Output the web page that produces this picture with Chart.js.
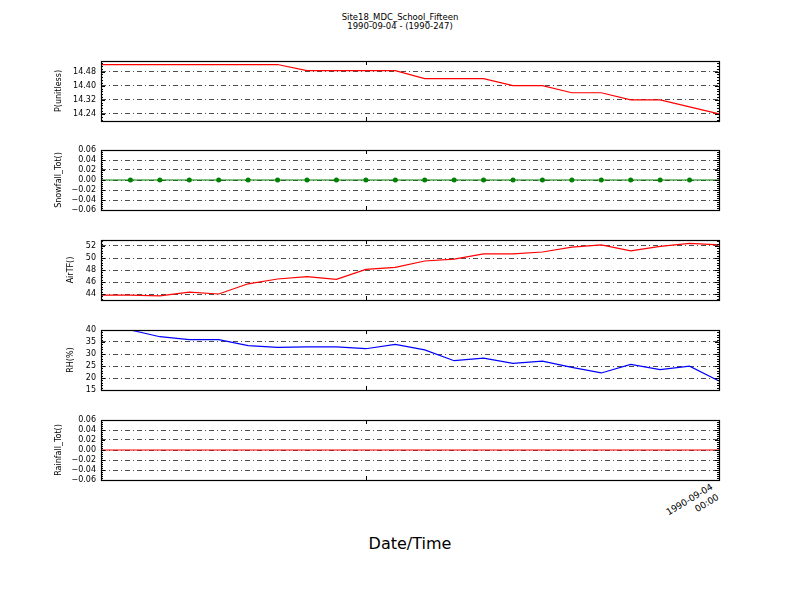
<!DOCTYPE html>
<html><head><meta charset="utf-8">
<script src="https://cdn.jsdelivr.net/npm/chart.js@4.4.0/dist/chart.umd.min.js"></script>
<style>
body{margin:0;background:#fff;width:800px;height:600px;position:relative;overflow:hidden;font-family:"DejaVu Sans",sans-serif;color:#000;}
canvas{position:absolute;left:0;}
#title{position:absolute;left:300px;top:13px;width:200px;text-align:center;font-size:8.5px;line-height:9px;}
#xtick{position:absolute;left:665px;top:494px;width:54px;text-align:right;font-size:9px;line-height:11.5px;transform:rotate(-31deg);transform-origin:center;white-space:nowrap;}
#xlabel{position:absolute;left:310px;top:534px;width:200px;text-align:center;font-size:16px;line-height:20px;}
</style></head><body>
<div id="title">Site18_MDC_School_Fifteen<br>1990-09-04 - (1990-247)</div>
<div id="xtick">1990-09-04<br>00:00</div>
<div id="xlabel">Date/Time</div>
<script>
const timeLabels = ['1990-09-03 03:00','1990-09-03 04:00','1990-09-03 05:00','1990-09-03 06:00','1990-09-03 07:00','1990-09-03 08:00','1990-09-03 09:00','1990-09-03 10:00','1990-09-03 11:00','1990-09-03 12:00','1990-09-03 13:00','1990-09-03 14:00','1990-09-03 15:00','1990-09-03 16:00','1990-09-03 17:00','1990-09-03 18:00','1990-09-03 19:00','1990-09-03 20:00','1990-09-03 21:00','1990-09-03 22:00','1990-09-03 23:00','1990-09-04 00:00'];
const pressure = [14.52,14.52,14.52,14.52,14.52,14.52,14.52,14.485,14.485,14.485,14.485,14.44,14.44,14.44,14.40,14.40,14.36,14.36,14.32,14.32,14.28,14.24];
const snowfall = [0,0,0,0,0,0,0,0,0,0,0,0,0,0,0,0,0,0,0,0,0,0];
const airTF = [43.8,43.8,43.7,44.3,44.0,45.7,46.5,46.9,46.45,48.1,48.45,49.5,49.8,50.7,50.7,51.0,51.8,52.2,51.2,51.95,52.45,52.2];
const rh = [40,40,37.2,36.0,36.0,33.5,32.8,33.0,33.0,32.2,34.0,31.7,27.2,28.3,26.1,27.0,24.4,22.1,25.7,23.5,24.9,18.75];
const rainfall = [0,0,0,0,0,0,0,0,0,0,0,0,0,0,0,0,0,0,0,0,0,0];
const pTicks = [14.24,14.32,14.40,14.48];
const snowTicks = [-0.06,-0.04,-0.02,0,0.02,0.04,0.06];
const airTicks = [44,46,48,50,52];
const rhTicks = [15,20,25,30,35,40];
const rainTicks = [-0.06,-0.04,-0.02,0,0.02,0.04,0.06];
const xTickIndex = 9;

const panels = [
  {top:61, data:pressure, color:'#ff0000', title:'P(unitless)', min:14.2, max:14.54, ticks:pTicks, dec:2, pad:54, points:false},
  {top:150, data:snowfall, color:'#008000', title:'Snowfall_Tot()', min:-0.06, max:0.06, ticks:snowTicks, dec:2, pad:54, points:true},
  {top:240, data:airTF, color:'#ff0000', title:'AirTF()', min:43, max:53, ticks:airTicks, dec:0, pad:66, points:false},
  {top:330, data:rh, color:'#0000ff', title:'RH(%)', min:15, max:40, ticks:rhTicks, dec:0, pad:66, points:false},
  {top:420, data:rainfall, color:'#ff0000', title:'Rainfall_Tot()', min:-0.06, max:0.06, ticks:rainTicks, dec:2, pad:54, points:false}
];

const framePlugin = {
  id:'frame',
  afterDraw(chart){
    const {ctx, chartArea:a, scales} = chart;
    const y = scales.y, x = scales.x;
    ctx.save();
    ctx.strokeStyle = '#000';
    ctx.lineWidth = 1;
    const tk = chart.options.scales.y.tickList;
    const step = (tk[1]-tk[0])/5;
    ctx.beginPath();
    for (let v = tk[0] - Math.floor((tk[0]-y.min)/step+1e-9)*step; v <= y.max + 1e-9; v += step) {
      const py = Math.round(y.getPixelForValue(v)) + 0.5;
      ctx.moveTo(a.left, py); ctx.lineTo(a.left + 2, py);
      ctx.moveTo(a.right, py); ctx.lineTo(a.right - 2, py);
    }
    for (const v of tk) {
      const py = Math.round(y.getPixelForValue(v)) + 0.5;
      ctx.moveTo(a.left, py); ctx.lineTo(a.left + 4, py);
      ctx.moveTo(a.right, py); ctx.lineTo(a.right - 4, py);
    }
    const px = Math.round(x.getPixelForValue(xTickIndex)) + 0.5;
    ctx.moveTo(px, a.top); ctx.lineTo(px, a.top + 4);
    ctx.moveTo(px, a.bottom); ctx.lineTo(px, a.bottom - 4);
    ctx.stroke();
    ctx.lineWidth = 1.2;
    ctx.strokeRect(Math.round(a.left)+0.5, Math.round(a.top)+0.5, Math.round(a.right-a.left), Math.round(a.bottom-a.top));
    ctx.restore();
  }
};

panels.forEach(p => {
  const c = document.createElement('canvas');
  c.width = 730; c.height = 76;
  c.style.top = (p.top - 8) + 'px';
  document.body.appendChild(c);
  const last = p.data.length - 1;
  new Chart(c.getContext('2d'), {
    type:'line',
    data:{labels:timeLabels, datasets:[{
      data:p.data, borderColor:p.color, backgroundColor:p.color, borderWidth:1.2,
      pointRadius: p.points ? (ctx => (ctx.dataIndex===0||ctx.dataIndex===last)?0:2.5) : 0,
      pointBackgroundColor:p.color, pointBorderColor:p.color, pointBorderWidth:0,
      tension:0, fill:false
    }]},
    options:{
      responsive:false, animation:false, devicePixelRatio:1,
      layout:{padding:{top:8,bottom:8,left:0,right:11}},
      plugins:{legend:{display:false}, tooltip:{enabled:false}},
      scales:{
        x:{display:false, offset:false},
        y:{
          min:p.min, max:p.max, tickList:p.ticks,
          afterBuildTicks: s => { s.ticks = p.ticks.map(v => ({value:v})); },
          afterFit: s => { s.width = 101; s.paddingTop = 0; s.paddingBottom = 0; },
          ticks:{padding:5, autoSkip:false, color:'#000', font:{family:'DejaVu Sans', size:8},
            callback: v => (v < -1e-9 ? '\u2212' : '') + Math.abs(v).toFixed(p.dec)},
          grid:{color:'#000', lineWidth:0.7, drawTicks:false},
          border:{display:false, dash:[5,3,1,3]},
          title:{display:true, text:p.title, color:'#000', font:{family:'DejaVu Sans', size:8}, padding:{top:p.pad, bottom:0}}
        }
      }
    },
    plugins:[framePlugin]
  });
});
</script>
</body></html>
